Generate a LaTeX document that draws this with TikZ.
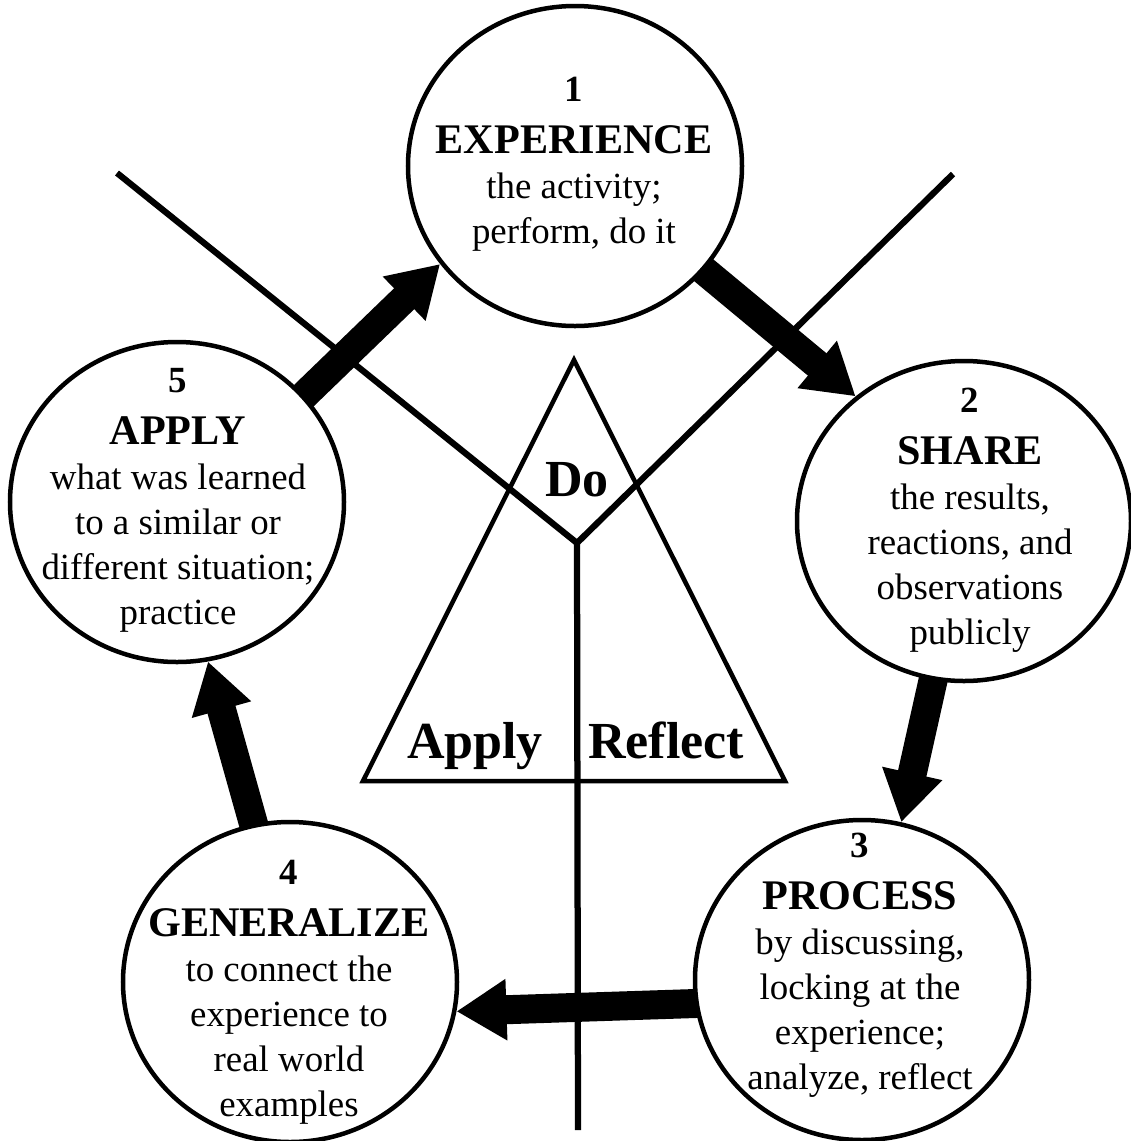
\documentclass[tikz,border=0pt]{standalone}
\usepackage{fontspec}
\setmainfont{Liberation Serif}
\usetikzlibrary{shapes.geometric}
\usetikzlibrary{arrows.meta}
\usetikzlibrary{backgrounds}

\newcommand{\headword}[1]{{\fontsize{24}{25.6}\selectfont\bfseries #1}}

\tikzset{
  stage/.style = {ellipse, draw, line width = 0.9mm, fill = white,
    minimum width = 66.8mm, minimum height = 64mm, inner sep = 0pt},
  stagetext/.style = {align = center, anchor = north, inner sep = 0pt,
    font = \fontsize{21}{25.6}\selectfont},
  cyclearrow/.style = {line width = 5.8mm, shorten <= -4mm,
    -{Triangle[length = 10mm, width = 11.6mm]}},
  divider/.style = {line width = 1.25mm},
  bigword/.style = {anchor = base, inner sep = 0pt,
    font = \fontsize{29.6}{32}\selectfont\bfseries}
}

\begin{document}
\begin{tikzpicture}[x = 0.2mm, y = -0.2mm]
  \useasboundingbox (0, 0) rectangle (1131, 1141);

  % the five stages
  \node[stage] (n1) at (575, 166) {};
  \node[stage] (n2) at (964, 521) {};
  \node[stage] (n3) at (862, 980) {};
  \node[stage] (n4) at (290, 982) {};
  \node[stage] (n5) at (177, 502) {};

  \node[stagetext] (t1) at (574, 77) {{\bfseries 1}\\[1.4mm]
    \headword{EXPERIENCE}\\ the activity;\\ perform, do it};
  \node[stagetext] (t2) at (970, 388) {{\bfseries 2}\\[1.4mm]
    \headword{SHARE}\\ the results,\\ reactions, and\\ observations\\ publicly};
  \node[stagetext] (t3) at (860, 833) {{\bfseries 3}\\[1.4mm]
    \headword{PROCESS}\\ by discussing,\\ locking at the\\ experience;\\ analyze, reflect};
  \node[stagetext] (t4) at (289, 860) {{\bfseries 4}\\[1.4mm]
    \headword{GENERALIZE}\\ to connect the\\ experience to\\ real world\\ examples};
  \node[stagetext] (t5) at (178, 368) {{\bfseries 5}\\[1.4mm]
    \headword{APPLY}\\ what was learned\\ to a similar or\\ different situation;\\ practice};

  % arrows of the cycle
  \begin{scope}[on background layer]
    \draw[cyclearrow] (n1.321) -- (n2.131);
    \draw[cyclearrow] (n2.259) -- (n3.76);
    \draw[cyclearrow] (n3.188) -- (n4.350);
    \draw[cyclearrow] (n4.103) -- (n5.281);
    \draw[cyclearrow] (n5.40) -- (n1.216);
  \end{scope}

  % the dividing lines
  \coordinate (fork) at (577, 543);
  \coordinate (lend) at (117, 173);
  \coordinate (rend) at (953, 174);
  \coordinate (bend) at (578, 1130);
  \draw[divider] (lend) -- (fork) -- (rend);
  \draw[divider] (fork) -- (bend);

  % the triangle
  \coordinate (top) at (574, 360);
  \coordinate (bl) at (363, 781);
  \coordinate (br) at (785, 781);
  \draw[line width = 0.9mm] (top) -- (br) -- (bl) -- cycle;

  \node[bigword] (do) at (577, 496) {Do};
  \node[bigword] (apply) at (475, 758) {Apply};
  \node[bigword] (reflect) at (666, 758) {Reflect};
\end{tikzpicture}
\end{document}
